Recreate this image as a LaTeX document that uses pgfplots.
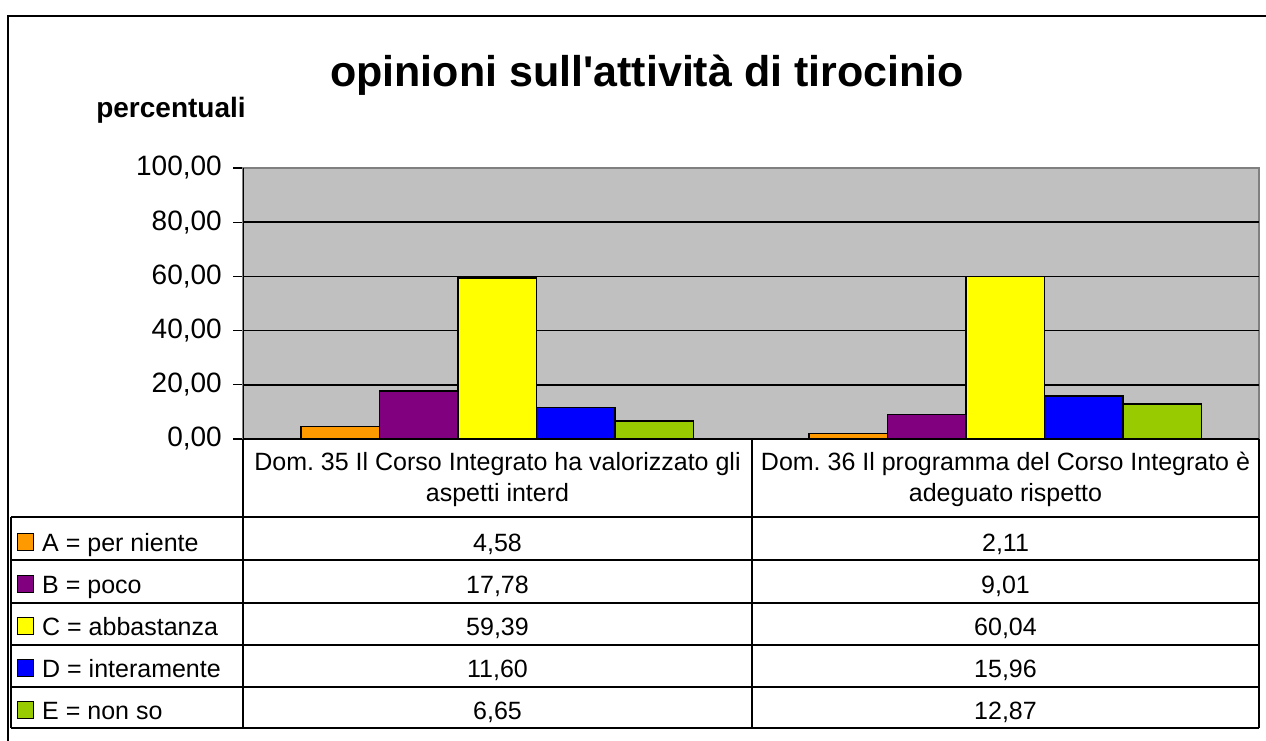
\documentclass[border=0pt]{standalone}
\usepackage{fontspec}
\setmainfont{Liberation Sans}
\usepackage{pgfplots}
\usepackage{pgfplotstable}
\pgfplotsset{compat=1.18}

\definecolor{serA}{HTML}{FF9900}
\definecolor{serB}{HTML}{800080}
\definecolor{serC}{HTML}{FFFF00}
\definecolor{serD}{HTML}{0000FF}
\definecolor{serE}{HTML}{99CC00}
\definecolor{plotbg}{HTML}{C0C0C0}
\definecolor{framegray}{HTML}{808080}

% percentuali per domanda (riga 0 = Dom. 35, riga 1 = Dom. 36)
\pgfplotstableread{
x A B C D E
1 4.58 17.78 59.39 11.60 6.65
2 2.11 9.01 60.04 15.96 12.87
}\datatable

\newcommand{\val}[2]{\pgfplotstablegetelem{#1}{#2}\of\datatable
  \pgfmathprintnumber[fixed,fixed zerofill,precision=2,use comma,assume math mode=true]{\pgfplotsretval}}

\begin{document}
\begin{tikzpicture}[every node/.style={inner sep=0pt}]
\useasboundingbox (0pt,0pt) rectangle (1266pt,-740pt);
\draw[line width=2pt] (8pt,-800pt) -- (8pt,-16pt) -- (1300pt,-16pt);
\node[font=\bfseries\fontsize{43}{48}\selectfont, anchor=base] at (647pt,-86pt) {opinioni sull\textquotesingle attività di tirocinio};
\node[font=\bfseries\fontsize{28}{32}\selectfont, anchor=base] at (171pt,-117pt) {percentuali};

\begin{axis}[
  at={(243pt,-439pt)}, anchor=south west,
  scale only axis, width=1016pt, height=271pt,
  xmin=0.5, xmax=2.5, ymin=0, ymax=100,
  xtick=\empty,
  ytick={0,20,...,100},
  ytick pos=left, tick align=outside, major tick length=10pt,
  tick style={black, line width=1.2pt},
  yticklabel style={font=\fontsize{28}{30}\selectfont, xshift=-11pt,
    /pgf/number format/.cd, fixed, fixed zerofill, precision=2, use comma, assume math mode=true},
  axis background/.style={fill=plotbg},
  axis line style={draw=framegray, line width=1.5pt},
  extra y ticks={20,40,60,80}, extra y tick labels={},
  extra y tick style={grid=major, major grid style={black, line width=1.5pt}, major tick length=0pt},
  ybar=0pt, bar width=78.5pt,
]
\addplot[fill=serA, draw=black, line width=1.5pt] table[x=x,y=A]{\datatable};
\addplot[fill=serB, draw=black, line width=1.5pt] table[x=x,y=B]{\datatable};
\addplot[fill=serC, draw=black, line width=1.5pt] table[x=x,y=C]{\datatable};
\addplot[fill=serD, draw=black, line width=1.5pt] table[x=x,y=D]{\datatable};
\addplot[fill=serE, draw=black, line width=1.5pt] table[x=x,y=E]{\datatable};
\draw[black, line width=1.5pt] (rel axis cs:0,0) -- (rel axis cs:0,1);
\end{axis}

% tabella dati
\begin{scope}[line width=1.5pt]
\draw (243pt,-439pt) -- (1259pt,-439pt);
\foreach \x in {243,752,1259} \draw (\x pt,-439pt) -- (\x pt,-728pt);
\draw (11pt,-517pt) -- (11pt,-728pt);
\foreach \y in {517,560,603,645,687,728} \draw (11pt,-\y pt) -- (1259pt,-\y pt);
\end{scope}

\begin{scope}[font=\fontsize{25}{30}\selectfont]
\node[anchor=base] at (497.5pt,-470pt) {Dom.\ 35 Il Corso Integrato ha valorizzato gli};
\node[anchor=base] at (497.5pt,-501pt) {aspetti interd};
\node[anchor=base] at (1005.5pt,-470pt) {Dom.\ 36 Il programma del Corso Integrato è};
\node[anchor=base] at (1005.5pt,-501pt) {adeguato rispetto};
\foreach \b/\c/\k/\t in {551/serA/A/{A = per niente}, 593/serB/B/{B = poco},
    635/serC/C/{C = abbastanza}, 677/serD/D/{D = interamente}, 719/serE/E/{E = non so}} {
  \filldraw[fill=\c, draw=black, line width=1pt] (17pt,{-(\b-18)*1pt}) rectangle (33pt,{-(\b-1)*1pt});
  \node[anchor=base west] at (42pt,-\b pt) {\t};
  \node[anchor=base] at (497.5pt,-\b pt) {\val{0}{\k}};
  \node[anchor=base] at (1005.5pt,-\b pt) {\val{1}{\k}};
}
\end{scope}
\end{tikzpicture}
\end{document}
